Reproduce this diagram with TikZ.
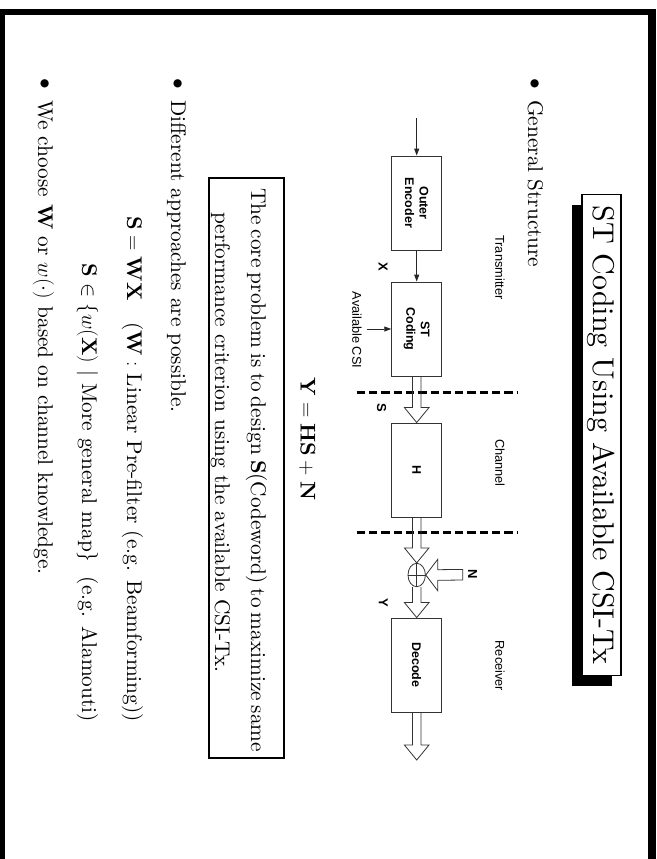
\documentclass[tikz,border=0pt]{standalone}
\usepackage{fix-cm}
\usepackage{fontspec}
\setmainfont{lmroman10-regular.otf}[BoldFont=lmroman10-bold.otf, ItalicFont=lmroman10-italic.otf]
\newfontfamily\dsans{Liberation Sans}
\usetikzlibrary{calc,arrows.meta,shapes.geometric}

% hollow block arrow running downwards from #1 to the tip at #2
\newcommand\hollowdown[2]{%
  \draw[hollow] ($(#1)+(-4.2,0)$) -- ($(#2)+(-4.2,-15)$) -- ($(#2)+(-12.3,-15)$)
    -- (#2) -- ($(#2)+(12.3,-15)$) -- ($(#2)+(4.2,-15)$) -- ($(#1)+(4.2,0)$);}

\begin{document}
\begin{tikzpicture}[x=1pt,y=-1pt,
  body/.style={rotate=-90, inner sep=0pt, font=\fontsize{21.3}{36}\selectfont},
  ttl/.style={rotate=-90, inner sep=0pt, font=\fontsize{30}{36}\selectfont},
  blk/.style={draw=black!80, line width=0.9pt, rotate=-90, minimum width=94, minimum height=50,
    inner sep=0pt, align=center, font=\dsans\bfseries\fontsize{12.5}{14.5}\selectfont},
  lbl/.style={rotate=-90, inner sep=0pt, font=\dsans\fontsize{12.8}{15}\selectfont},
  sym/.style={rotate=-90, inner sep=0pt, font=\dsans\bfseries\fontsize{13}{15}\selectfont},
  hollow/.style={draw=black!80, line width=0.8pt, line join=miter},
  arr/.style={draw=black!85, line width=0.9pt, -{Triangle[length=7pt,width=5pt]}},
  sep/.style={line width=2.6pt, dash pattern=on 8.3pt off 4pt},
]
\useasboundingbox (0,0) rectangle (656,859);

% slide frame
\fill (0,9.3) rectangle (656,15.3);
\fill (0,9.3) rectangle (5,859);
\fill (648,9.3) rectangle (656,859);

% title with its shadow
\fill (571.7,204.5) rectangle (611.7,685.5);
\node[draw, fill=white, line width=1.7pt, rotate=-90, minimum width=481, minimum height=39, inner sep=0pt]
  (tbox) at (601.5,435) {};
\node[ttl, anchor=base] (title) at (593,435) {ST Coding Using Available CSI-Tx};

% first item
\node[body] (b1) at (534,84) {$\bullet$};
\node[body, anchor=base west] (t1) at (528,100) {General Structure};

% block diagram
\node[lbl] (ltx) at (500,267.5) {Transmitter};
\node[lbl] (lch) at (500,463) {Channel};
\node[lbl] (lrx) at (500,666) {Receiver};

\node[blk] (enc) at (416.7,203) {Outer\\Encoder};
\node[blk] (stc) at (416.7,329) {ST\\Coding};
\node[blk] (hch) at (416.7,470) {H};
\node[blk] (dec) at (416.7,665) {Decode};

\coordinate (src) at (416.7,118);
\draw[arr] (src) -- (enc.west);
\draw[arr] (enc.east) -- (stc.west);
\node[sym] (lx) at (383,267) {X};

\node[lbl] (lcsi) at (357,330) {Available CSI};
\coordinate (csi) at (366.7,329);
\draw[arr] (csi) -- (stc.south);

\coordinate (d1a) at (356.7,392.3);
\coordinate (d1b) at (516.7,392.3);
\coordinate (d2a) at (356.7,532.3);
\coordinate (d2b) at (516.7,532.3);
\draw[sep] (d1a) -- (d1b);
\draw[sep] (d2a) -- (d2b);

\hollowdown{stc.east}{hch.west}
\node[sym] (ls) at (381.7,408) {S};

\node[draw=black!80, line width=0.8pt, ellipse, minimum width=17.4, minimum height=23.4, inner sep=0pt]
  (add) at (416.7,575) {};
\draw[black!80, line width=0.8pt] (add.north) -- (add.south) (add.west) -- (add.east);
\hollowdown{hch.east}{add.north}

\coordinate (nsrc) at (462.7,574.7);
\draw[hollow] ($(nsrc)+(0,-5.3)$) -- ($(add.east)+(12,-5.3)$) -- ($(add.east)+(12,-15.8)$)
  -- (add.east) -- ($(add.east)+(12,15.8)$) -- ($(add.east)+(12,5.3)$) -- ($(nsrc)+(0,5.3)$) -- cycle;
\node[sym] (ln) at (472.7,574) {N};

\hollowdown{add.south}{dec.west}
\node[sym] (ly) at (383.3,603.3) {Y};

\coordinate (out) at (416.7,760);
\hollowdown{dec.east}{out}

% channel model
\node[body, anchor=base] (eq) at (300.5,439) {$\mathbf{Y}=\mathbf{HS}+\mathbf{N}$};

% boxed statement
\node[draw, line width=2pt, rotate=-90, minimum width=580, minimum height=75, inner sep=0pt]
  (pbox) at (246.8,468) {};
\node[body, anchor=base west] (p1) at (251,188)
  {\spaceskip=.3em plus .4em minus .25em\makebox[564pt][s]{The core problem is to design $\mathbf{S}$(Codeword) to maximize same}};
\node[body, anchor=base west] (p2) at (215,212) {performance criterion using the available CSI-Tx.};

% second item
\node[body] (b2) at (177,84) {$\bullet$};
\node[body, anchor=base west] (t2) at (171,100) {Different approaches are possible.};
\node[body, anchor=base east] (t3) at (127,722)
  {$\mathbf{S}=\mathbf{WX}$\quad($\mathbf{W}:$ Linear Pre-filter (e.g. Beamforming))};
\node[body, anchor=base east] (t4) at (82,722)
  {$\mathbf{S}\in\{w(\mathbf{X})\ |\ \mbox{More general map}\}$\ \ (e.g. Alamouti)};

% third item
\node[body] (b3) at (44,84) {$\bullet$};
\node[body, anchor=base west] (t5) at (38,100) {We choose $\mathbf{W}$ or $w(\cdot)$ based on channel knowledge.};
\end{tikzpicture}
\end{document}
